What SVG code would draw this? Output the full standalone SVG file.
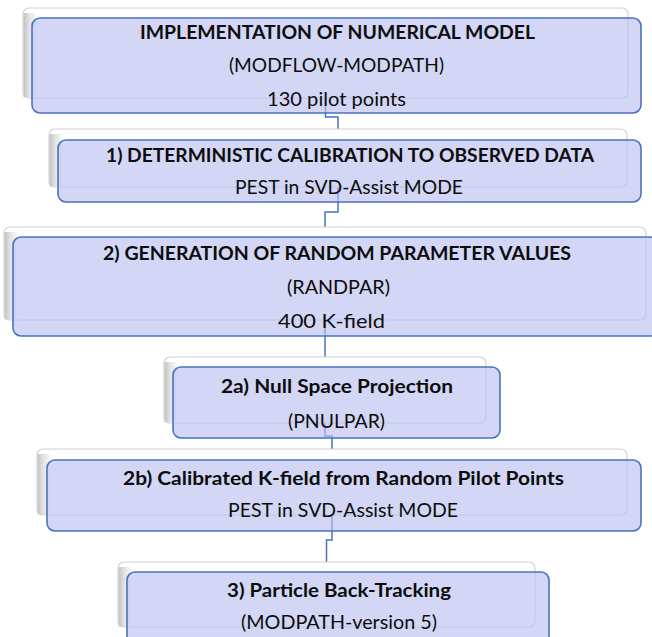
<svg xmlns="http://www.w3.org/2000/svg" width="652" height="637" viewBox="0 0 652 637">
<defs>
<linearGradient id="bevel" x1="0" y1="0" x2="1" y2="0">
<stop offset="0" stop-color="#c2c2c2"/>
<stop offset="0.45" stop-color="#e2e2e2"/>
<stop offset="1" stop-color="#f6f6f6"/>
</linearGradient>
<style>
.back{fill:#ffffff;stroke:#d2d2d2;stroke-width:1.2}
.bevel{fill:url(#bevel);stroke:none}
.front{fill:rgb(188,193,238);fill-opacity:0.66;stroke:#4a72c2;stroke-width:1.6}
.conn path{fill:none;stroke:#4a72c2;stroke-width:1.5}
text{font-family:Lato,"Open Sans","Liberation Sans",sans-serif;font-size:19px;fill:#0d0d0d;text-anchor:middle}
.b{font-weight:bold}
</style>
</defs>
<rect width="652" height="637" fill="#ffffff"/>
<g id="connectors" class="conn">
<path d="M325.5 98 V117 H338 V129"/>
<path d="M338 187 V212 H325 V227"/>
<path d="M325 320 V357"/>
<path d="M325 423 V436 H332 V449"/>
<path d="M332 515 V540 H326.5 V562"/>
</g>
<g id="n1">
<rect class="back" x="23" y="8" width="605" height="90" rx="6"/>
<rect class="bevel" x="23.6" y="13" width="12" height="84.4"/>
<rect class="front" x="32" y="18" width="609" height="95" rx="8"/>
<text class="b" x="337.5" y="38.5" textLength="395" lengthAdjust="spacingAndGlyphs">IMPLEMENTATION OF NUMERICAL MODEL</text>
<text x="336.5" y="72" textLength="215" lengthAdjust="spacingAndGlyphs">(MODFLOW-MODPATH)</text>
<text x="336.5" y="105.5" textLength="139" lengthAdjust="spacingAndGlyphs">130 pilot points</text>
</g>
<g id="n2">
<rect class="back" x="49" y="129" width="578" height="58" rx="6"/>
<rect class="bevel" x="49.6" y="134" width="12" height="52.4"/>
<rect class="front" x="58" y="140" width="583" height="62" rx="8"/>
<text class="b" x="350" y="162" textLength="488" lengthAdjust="spacingAndGlyphs">1) DETERMINISTIC CALIBRATION TO OBSERVED DATA</text>
<text x="349" y="194" textLength="228" lengthAdjust="spacingAndGlyphs">PEST in SVD-Assist MODE</text>
</g>
<g id="n3">
<rect class="back" x="4" y="227" width="642" height="93" rx="6"/>
<rect class="bevel" x="4.6" y="232" width="12" height="87.4"/>
<rect class="front" x="13" y="237" width="645" height="99" rx="8"/>
<text class="b" x="337" y="260" textLength="468" lengthAdjust="spacingAndGlyphs">2) GENERATION OF RANDOM PARAMETER VALUES</text>
<text x="338.5" y="294" textLength="103" lengthAdjust="spacingAndGlyphs">(RANDPAR)</text>
<text x="331.5" y="328" textLength="107" lengthAdjust="spacingAndGlyphs">400 K-field</text>
</g>
<g id="n2a">
<rect class="back" x="164" y="357" width="322" height="66" rx="6"/>
<rect class="bevel" x="164.6" y="362" width="12" height="60.4"/>
<rect class="front" x="173" y="367" width="327" height="71" rx="8"/>
<text class="b" x="337" y="393" textLength="232" lengthAdjust="spacingAndGlyphs">2a) Null Space Projection</text>
<text x="336.5" y="428" textLength="97" lengthAdjust="spacingAndGlyphs">(PNULPAR)</text>
</g>
<g id="n2b">
<rect class="back" x="37" y="449" width="590" height="66" rx="6"/>
<rect class="bevel" x="37.6" y="454" width="12" height="60.4"/>
<rect class="front" x="47" y="460" width="594" height="71" rx="8"/>
<text class="b" x="343.5" y="485" textLength="441" lengthAdjust="spacingAndGlyphs">2b) Calibrated K-field from Random Pilot Points</text>
<text x="343" y="517" textLength="230" lengthAdjust="spacingAndGlyphs">PEST in SVD-Assist MODE</text>
</g>
<g id="n3p">
<rect class="back" x="118" y="562" width="417" height="65" rx="6"/>
<rect class="bevel" x="118.6" y="567" width="12" height="59.4"/>
<rect class="front" x="127" y="572" width="422" height="80" rx="8"/>
<text class="b" x="339" y="596.5" textLength="224" lengthAdjust="spacingAndGlyphs">3) Particle Back-Tracking</text>
<text x="339" y="628.5" textLength="196" lengthAdjust="spacingAndGlyphs">(MODPATH-version 5)</text>
</g>
</svg>
